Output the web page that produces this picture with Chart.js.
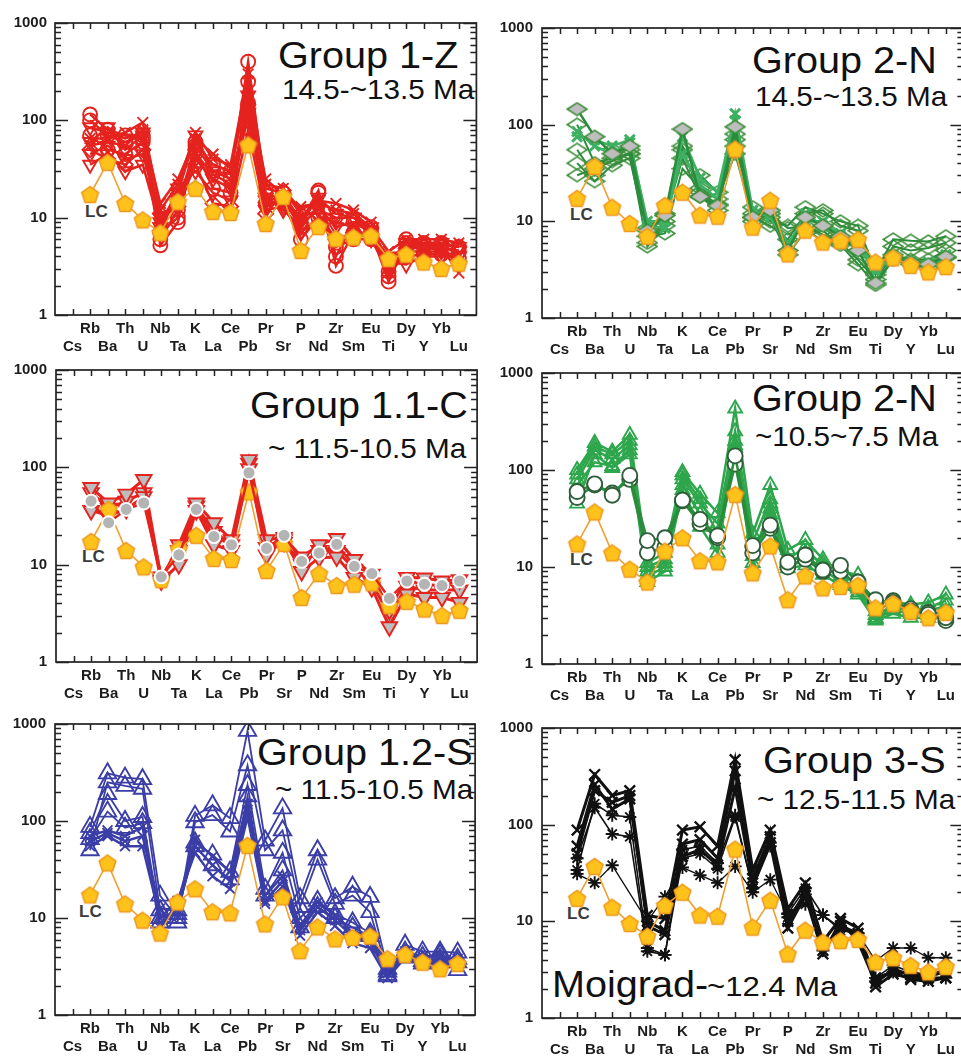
<!DOCTYPE html>
<html>
<head>
<meta charset="utf-8">
<script src="https://cdn.jsdelivr.net/npm/chart.js@4.4.1/dist/chart.umd.min.js"></script>
<style>
  html, body { margin: 0; padding: 0; }
  body { width: 961px; height: 1057px; overflow: hidden; background: #fff; position: relative; }
  canvas { position: absolute; }
  .t { position: absolute; font-family: "Liberation Sans", Arial, sans-serif; color: #111; white-space: nowrap;
       line-height: 1; transform-origin: 0 0; }
  .big { font-size: 36px; transform: scaleX(1.1); }
  .sub { font-size: 28px; transform: scaleX(1.06); }
  .lc { font-size: 17px; font-weight: bold; color: #3a3a3a; }
</style>
</head>
<body>

<div class="t big" style="left:278px;top:37.5px">Group 1-Z</div>
<div class="t sub" style="left:282px;top:76.3px">14.5-~13.5 Ma</div>
<div class="t big" style="left:752px;top:42.8px">Group 2-N</div>
<div class="t sub" style="left:755px;top:83px">14.5-~13.5 Ma</div>
<div class="t big" style="left:250px;top:387.8px">Group 1.1-C</div>
<div class="t sub" style="left:268px;top:434.6px">~ 11.5-10.5 Ma</div>
<div class="t big" style="left:752px;top:381.2px">Group 2-N</div>
<div class="t sub" style="left:755px;top:423px">~10.5~7.5 Ma</div>
<div class="t big" style="left:257px;top:734.5px">Group 1.2-S</div>
<div class="t sub" style="left:275px;top:776.3px">~ 11.5-10.5 Ma</div>
<div class="t big" style="left:763px;top:742.8px">Group 3-S</div>
<div class="t sub" style="left:757px;top:786.3px">~ 12.5-11.5 Ma</div>
<div class="t big" style="left:552px;top:966.5px">Moigrad-</div>
<div class="t sub" style="left:707px;top:974px;font-size:27px;transform:scaleX(1.15)">~12.4 Ma</div>

<div class="t lc" style="left:85px;top:202.6px">LC</div>
<div class="t lc" style="left:570px;top:205.6px">LC</div>
<div class="t lc" style="left:82px;top:548.3px">LC</div>
<div class="t lc" style="left:570px;top:550.6px">LC</div>
<div class="t lc" style="left:79px;top:902.6px">LC</div>
<div class="t lc" style="left:567px;top:904.6px">LC</div>

<script>
// Element order of the primitive-mantle-normalised spider diagram
const elements = ['Cs','Rb','Ba','Th','U','Nb','Ta','K','La','Ce','Pb','Pr','Sr','P','Nd','Zr','Sm','Eu','Ti','Dy','Y','Yb','Lu'];
const yTickValues = [1, 10, 100, 1000];

// Lower crust reference (Cs not plotted)
const lowerCrust = [null,17.3,37,14,9.5,7.0,14.6,20,11.6,11.3,56,8.7,16.5,4.6,8.1,6.1,6.3,6.5,3.8,4.2,3.5,3.0,3.4];

// Group 1-Z (14.5-13.5 Ma)
const g1z_a = [null,115,80,70,65,5.2,9,55,30,25,400,18,15,8,18,3.2,7,7,2.2,5.5,5,5,4.5];
const g1z_b = [null,100,70,60,70,6,12,60,35,30,250,20,18,9,19,4,9,8,2.5,6,5.5,5.5,5];
const g1z_c = [null,35,45,30,35,8,20,30,18,15,120,12,13,7,10,9,8,6,3.5,3.3,4,4,4];
const g1z_d = [null,45,55,40,45,10,15,40,25,20,180,15,16,10,12,10,10,7,4,4.5,4.5,4.5,4];
const g1z_e = [null,65,65,75,95,12,22,75,40,35,300,22,20,12,15,14,12,9,3,5,5,5,2.7];
const g1z_f = [null,55,60,55,80,14,25,65,45,32,200,25,17,13,14,12,11,8,4.5,6,6,6,5.5];
const g1z_g = [null,70,50,45,60,7,10,50,20,18,150,14,14,6,10,5,6,6,2.8,4,4.2,4.2,3.8];
const g1z_h = [null,85,75,65,75,9,18,70,30,28,100,16,12,8,13,8,9,7,3.2,5,4.8,4.8,4.6];
const g1z_i = [null,50,40,35,50,11,13,35,14,13,80,11,19,11,11,6,7,6.5,3.8,4.8,5.2,5.3,5];
const g1z_j = [null,60,85,50,70,8,16,45,28,22,130,13,16,9,16,11,10,8,3.5,5.5,5.5,5.5,5];

// Group 2-N (14.5-13.5 Ma)
const g2n_a = [null,145,75,50,60,8,11.5,90,18,14.5,95,11,13,5,11,9,7,5,2.3,4,3.8,3.6,4.3];
const g2n_b = [null,100,40,45,50,5.5,9,60,30,20,60,14,10,9,14,12,10,9,3,6.5,6.3,6.2,7];
const g2n_c = [null,40,26,38,45,7,7.5,35,22,17,50,11,9,6.5,12,13,9,8,2.8,5.5,5,5.3,6];
const g2n_d = [null,75,70,60,70,9,8.5,75,28,20,130,13,11,5.5,12,9,7.5,5.5,3,4.2,3.8,3.8,4.5];
const g2n_e = [null,55,30,55,55,6,10,45,18,13,80,10,12,8.5,9,7.3,6,4,2.5,4.5,4,4,5];
const g2n_f = [null,85,60,50,65,10,10,50,24,17,110,12,12,6,10,10,7,6,3.3,4,3.7,3.5,4];
const g2n_g = [null,30,35,42,50,8.5,12,55,20,15,70,12,11,4.5,8,8,5.7,3.6,2.2,4.2,3.6,3.3,4.2];

// Group 1.1-C (~11.5-10.5 Ma)
const g11c_a = [null,45,27,37,43,7.5,12.6,37,19.4,16,88,14.7,20,10.8,13.2,16.2,9.6,8.1,4.5,6.8,6.3,6.1,6.8];
const g11c_b = [null,62,43,53,75,7,16,43,27,18,120,18,19,12,16,18.6,11.3,8,3.4,7.4,7.3,6.8,7];
const g11c_c = [null,36,32,37,50,6.8,10,36,16,14,97,12.6,18,8.5,11.8,12,7.4,5.8,2.3,5,4.6,4.6,4.1];
const g11c_d = [null,55,38,45,55,7.5,14,40,22,16,110,15,17,10,14,14,9,6.5,3,6,5.5,5.5,5.5];

// Group 2-N (~10.5-7.5 Ma)
const g2nb_a = [null,60,72,55,88,18.7,20,49,31,21,140,16.6,27,11.2,13.3,9.3,10.4,7,4.6,4.3,3.5,3.25,3];
const g2nb_b = [null,52,70,58,80,14,16,48,28,20,115,14,25,10,12,9,9,6.5,4.2,4.5,3.7,3.4,2.8];
const g2nb_c = [null,100,190,155,230,11,14,95,57,36,430,22,70,15,19,12,9,8.3,3.5,4.4,4.1,4.3,5.2];
const g2nb_d = [null,80,160,130,180,9,11,80,45,28,250,18,50,12,16,10,8,7,3,3.8,3.6,3.8,4.5];
const g2nb_e = [null,45,145,105,145,7,9,62,26,14,170,9.7,45,9.7,10.4,8.3,6.5,5.2,2.8,3.3,3,3,3];
const g2nb_f = [null,90,175,145,200,10,12,88,50,22,200,13,40,11,14,11,7.5,6,3.2,4,3.8,3.5,4];
const g2nb_g = [null,70,120,110,160,8,10,70,35,17,180,11,35,10.5,12,9.5,7,5.5,2.9,3.6,3.3,3.2,3.5];

// Group 1.2-S (~11.5-10.5 Ma)
const g12s_a = [null,87,310,280,270,17,10,113,145,107,850,63,135,16,50,16,21,16.5,3,5.3,4.5,4.5,4.4];
const g12s_b = [null,50,250,230,215,12,9,97,115,78,375,50,80,13,40,14,17,11.5,2.8,4.5,4,4.2,2.9];
const g12s_c = [null,75,190,100,110,10,11,60,45,30,235,20,47,10,15,11,9,7,2.6,4,3.6,3.8,3.8];
const g12s_d = [null,65,125,85,95,9,12,55,35,25,180,17,31,8,13,10,8,6.5,2.5,3.9,3.4,3.5,3.5];
const g12s_e = [null,70,80,70,87,8,14,64,43,30,150,17,27,8.3,14.5,10.6,7,6.6,3.3,4.5,4,4,3.8];
const g12s_f = [null,55,70,55,55,10,15,47,27,20,110,14,21,6.6,11.5,8.3,5.5,4.9,2.4,3.9,3.3,3.3,3.2];
const g12s_g = [null,62,75,62,70,12.5,12,55,35,24,130,15,24,7.5,13,9.5,6.5,5.5,2.7,4.2,3.7,3.6,3.5];

// Group 3-S (~12.5-11.5 Ma)
const g3s_a = [null,88,330,200,225,11.5,10.7,88,95,60,470,34,88,13.5,25,6.2,10.7,8.5,2.1,2.85,2.6,2.6,2.6];
const g3s_b = [null,60,260,145,185,10,8,63,70,45,360,28,75,10,20,5,9,7.5,2.6,3,2.5,2.4,2.6];
const g3s_c = [null,50,225,170,200,9,7.3,47,55,38,240,25,65,8.5,18.5,4.6,10,6.2,2.3,3.2,2.8,2.7,3];
const g3s_d = [null,34,165,125,120,5.3,4.5,55,60,40,125,22,60,12,22,11.6,8.5,7,2.6,3.5,3,2.8,3.2];
const g3s_e = [null,31,25,38,null,10,18,36,30,25,37,20,27,12,15,11.6,8,7.5,3.9,5.3,5.3,4.2,4.2];
const g3s_f = [null,45,150,80,75,4.9,4.5,45,50,35,120,22,65,11,19,5,9,7.5,2.4,3,2.8,2.5,2.6];

// ---- marker shapes ----
function markerCanvas(w, h, draw) {
  const c = document.createElement('canvas');
  c.width = w; c.height = h;
  draw(c.getContext('2d'), w, h);
  return c;
}
const pentagon = markerCanvas(21, 21, (g, w, h) => {
  g.beginPath();
  for (let k = 0; k < 5; k++) {
    const a = -Math.PI / 2 + k * 2 * Math.PI / 5;
    g.lineTo(w / 2 + 8.8 * Math.cos(a), h / 2 + 0.8 + 8.8 * Math.sin(a));
  }
  g.closePath();
  g.fillStyle = '#FFC21A'; g.fill();
  g.lineWidth = 1.5; g.strokeStyle = '#EE981E'; g.stroke();
});
function diamond(fill, stroke) {
  return markerCanvas(22, 15, (g, w, h) => {
    g.beginPath();
    g.moveTo(w / 2, 1.2); g.lineTo(w - 1.2, h / 2); g.lineTo(w / 2, h - 1.2); g.lineTo(1.2, h / 2); g.closePath();
    if (fill) { g.fillStyle = fill; g.fill(); }
    g.lineWidth = 1.6; g.strokeStyle = stroke; g.stroke();
  });
}
const diamondHollow = diamond(null, '#3E8E3A');
const diamondGrey = diamond('#BEBEBE', '#3E8E3A');

// ---- dataset helpers ----
function pts(arr) { return arr.map((v, i) => ({ x: i, y: v })); }
function lcSet() {
  return { data: pts(lowerCrust), borderColor: '#F0A030', borderWidth: 1.6, pointStyle: pentagon,
           pointRadius: 9, tension: 0, spanGaps: true };
}
function set(arr, color, o) {
  return Object.assign({ data: pts(arr), borderColor: color, borderWidth: 2.5, pointBorderColor: color,
    pointBackgroundColor: 'rgba(0,0,0,0)', pointBorderWidth: 1.9, pointRadius: 6.5, tension: 0, spanGaps: true }, o);
}

const RED = '#E5231E', GREEN_D = '#2A8C3C', GREEN_X = '#3DB061', GREEN = '#2EA64C', BLUE = '#3B3EA6', BLACK = '#111';
const triDown = { pointStyle: 'triangle', pointRotation: 180, pointRadius: 8 };

const panels = [
  { left: 55, top: 18, h: 297, yPad: 8, sets: [
    lcSet(),
    set(g1z_a, RED, { pointStyle: 'circle', pointRadius: 7 }),
    set(g1z_b, RED, { pointStyle: 'circle', pointRadius: 7 }),
    set(g1z_c, RED, triDown),
    set(g1z_d, RED, triDown),
    set(g1z_e, RED, { pointStyle: 'crossRot', pointRadius: 7.5 }),
    set(g1z_f, RED, { pointStyle: 'crossRot', pointRadius: 7.5 }),
    set(g1z_g, RED, { pointStyle: 'circle', pointRadius: 7 }),
    set(g1z_h, RED, triDown),
    set(g1z_i, RED, { pointStyle: 'rectRot', pointRadius: 7.5 }),
    set(g1z_j, RED, triDown)
  ]},
  { left: 542, top: 22, h: 296, yPad: 9, sets: [
    lcSet(),
    set(g2n_a, GREEN_D, { pointStyle: diamondGrey }),
    set(g2n_d, GREEN_X, { pointStyle: 'crossRot', pointRadius: 7, pointBorderWidth: 3 }),
    set(g2n_f, GREEN_X, { pointStyle: 'crossRot', pointRadius: 7, pointBorderWidth: 3 }),
    set(g2n_b, GREEN_D, { pointStyle: diamondHollow, borderWidth: 2 }),
    set(g2n_c, GREEN_D, { pointStyle: diamondHollow, borderWidth: 2 }),
    set(g2n_e, GREEN_D, { pointStyle: diamondHollow, borderWidth: 2 }),
    set(g2n_g, GREEN_D, { pointStyle: diamondHollow, borderWidth: 2 })
  ]},
  { left: 56, top: 364, h: 298, yPad: 9, sets: [
    set(g11c_a, RED, { pointStyle: 'circle', pointRadius: 6.5, pointBackgroundColor: '#B4B4B4', pointBorderColor: '#fff' }),
    lcSet(),
    set(g11c_b, RED, Object.assign({ pointBackgroundColor: '#BDBDBD' }, triDown, { pointRadius: 9, borderWidth: 3 })),
    set(g11c_c, RED, Object.assign({ pointBackgroundColor: '#BDBDBD' }, triDown, { pointRadius: 9, borderWidth: 3 })),
    set(g11c_d, RED, Object.assign({ pointBackgroundColor: '#BDBDBD' }, triDown, { pointRadius: 9, borderWidth: 3 }))
  ]},
  { left: 542, top: 367, h: 297, yPad: 9, sets: [
    lcSet(),
    set(g2nb_a, '#2F5E3A', { pointStyle: 'circle', pointRadius: 7.5, pointBackgroundColor: '#fff', borderColor: GREEN_D }),
    set(g2nb_b, '#2F5E3A', { pointStyle: 'circle', pointRadius: 7.5, pointBackgroundColor: '#fff', borderColor: GREEN_D }),
    set(g2nb_c, GREEN, { pointStyle: 'triangle', pointRadius: 8 }),
    set(g2nb_d, GREEN, { pointStyle: 'triangle', pointRadius: 8 }),
    set(g2nb_e, GREEN, { pointStyle: 'triangle', pointRadius: 8 }),
    set(g2nb_f, GREEN, { pointStyle: 'triangle', pointRadius: 8 }),
    set(g2nb_g, GREEN, { pointStyle: 'triangle', pointRadius: 8 })
  ]},
  { left: 55, top: 718, h: 297, yPad: 9, sets: [
    lcSet(),
    set(g12s_e, BLUE, { pointStyle: 'crossRot', pointRadius: 7 }),
    set(g12s_f, BLUE, { pointStyle: 'crossRot', pointRadius: 7 }),
    set(g12s_g, BLUE, { pointStyle: 'crossRot', pointRadius: 7 }),
    set(g12s_a, BLUE, { pointStyle: 'triangle', pointRadius: 10, borderWidth: 1.8 }),
    set(g12s_b, BLUE, { pointStyle: 'triangle', pointRadius: 10, borderWidth: 1.8 }),
    set(g12s_c, BLUE, { pointStyle: 'triangle', pointRadius: 10, borderWidth: 1.8 }),
    set(g12s_d, BLUE, { pointStyle: 'triangle', pointRadius: 10, borderWidth: 1.8 })
  ]},
  { left: 542, top: 722, h: 296, yPad: 9, sets: [
    lcSet(),
    set(g3s_a, BLACK, { pointStyle: 'crossRot', pointRadius: 7.5, borderWidth: 3, pointBorderWidth: 2.4 }),
    set(g3s_b, BLACK, { pointStyle: 'crossRot', pointRadius: 7.5, borderWidth: 3, pointBorderWidth: 2.4 }),
    set(g3s_c, BLACK, { pointStyle: 'crossRot', pointRadius: 7.5, borderWidth: 3, pointBorderWidth: 2.4 }),
    set(g3s_d, BLACK, { pointStyle: 'star', pointRadius: 6.5, borderWidth: 1.6 }),
    set(g3s_e, BLACK, { pointStyle: 'star', pointRadius: 6.5, borderWidth: 1.3 }),
    set(g3s_f, BLACK, { pointStyle: 'star', pointRadius: 6.5, borderWidth: 1.6 })
  ]}
];

// Box frame with inward ticks on all four sides
const framePlugin = {
  id: 'frame',
  afterDatasetsDraw(chart) {
    const { ctx, chartArea: a, scales: { x, y } } = chart;
    ctx.save();
    ctx.strokeStyle = '#222';
    ctx.lineWidth = 1.5;
    ctx.beginPath();
    elements.forEach((_, i) => {
      const px = Math.round(x.getPixelForValue(i)) + 0.5;
      ctx.moveTo(px, a.bottom); ctx.lineTo(px, a.bottom - 6);
      ctx.moveTo(px, a.top); ctx.lineTo(px, a.top + 6);
    });
    for (let d = 1; d <= 1000; d *= 10) {
      for (let m = 1; m <= 9; m++) {
        const v = d * m;
        if (v > 1000) break;
        const py = Math.round(y.getPixelForValue(v)) + 0.5;
        const len = m === 1 ? 13 : 6;
        ctx.moveTo(a.left, py); ctx.lineTo(a.left + len, py);
        ctx.moveTo(a.right, py); ctx.lineTo(a.right - len, py);
      }
    }
    ctx.stroke();
    ctx.lineWidth = 1.7;
    ctx.strokeRect(a.left, a.top, a.width, a.height);
    ctx.restore();
  }
};

const AXW = 55, TOPPAD = 12, XAXH = 45, PLOTW = 424, RIGHTPAD = 8;

panels.forEach(p => {
  const cv = document.createElement('canvas');
  const w = AXW + PLOTW + RIGHTPAD, h = TOPPAD + p.h + XAXH;
  cv.width = w; cv.height = h;
  cv.style.left = (p.left - AXW) + 'px';
  cv.style.top = (p.top - TOPPAD) + 'px';
  cv.style.width = w + 'px'; cv.style.height = h + 'px';
  document.body.appendChild(cv);

  new Chart(cv, {
    type: 'line',
    data: { datasets: p.sets },
    plugins: [framePlugin],
    options: {
      responsive: false, animation: false, devicePixelRatio: 1,
      layout: { padding: { top: TOPPAD, right: RIGHTPAD, left: 0, bottom: 0 } },
      plugins: { legend: { display: false }, tooltip: { enabled: false } },
      scales: {
        x: {
          type: 'linear', min: -1, max: 23,
          grid: { display: false, drawTicks: false }, border: { display: false },
          afterBuildTicks: s => { s.ticks = elements.map((_, i) => ({ value: i })); },
          afterFit: s => { s.height = XAXH; },
          ticks: {
            autoSkip: false, maxRotation: 0, minRotation: 0, padding: 5, color: '#1c1c1c',
            font: { family: 'Liberation Sans', size: 15, weight: 'bold', lineHeight: 1.2 },
            callback: v => (v % 2 === 1) ? [elements[v], ''] : ['', elements[v]]
          }
        },
        y: {
          type: 'logarithmic', min: 1, max: 1000,
          grid: { display: false, drawTicks: false }, border: { display: false },
          afterBuildTicks: s => { s.ticks = yTickValues.map(v => ({ value: v })); },
          afterFit: s => { s.width = AXW; },
          ticks: {
            padding: p.yPad, color: '#1c1c1c',
            font: { family: 'Liberation Sans', size: 15, weight: 'bold' },
            callback: v => String(v)
          }
        }
      }
    }
  });
});
</script>
</body>
</html>
